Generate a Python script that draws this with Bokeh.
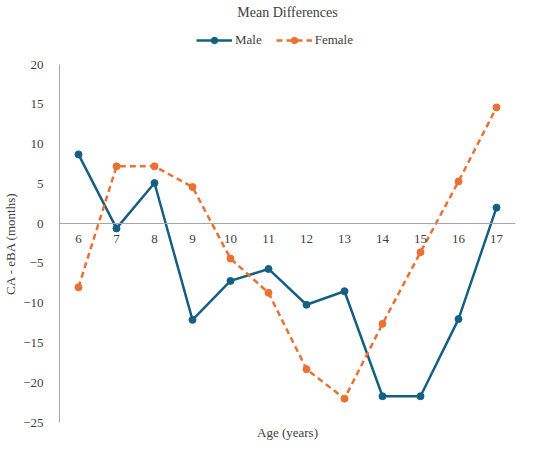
from bokeh.plotting import figure
from bokeh.layouts import column
from bokeh.models import Legend, LegendItem, Range1d, FixedTicker, Title, ColumnDataSource
from bokeh.embed import file_html
from bokeh.resources import INLINE

ages = ["6", "7", "8", "9", "10", "11", "12", "13", "14", "15", "16", "17"]
male = [8.7, -0.6, 5.1, -12.1, -7.2, -5.7, -10.2, -8.5, -21.7, -21.7, -12.0, 2.0]
female = [-8.0, 7.2, 7.2, 4.6, -4.4, -8.7, -18.3, -22.0, -12.6, -3.6, 5.3, 14.6]
y_ticks = [20, 15, 10, 5, 0, -5, -10, -15, -20, -25]
series_names = ["Male", "Female"]

MALE_C = "#156082"
FEMALE_C = "#E97132"
FONT = "Liberation Serif"
TXT = "#404040"
AX = "#a6a6a6"

src = ColumnDataSource(dict(age=ages, male=male, female=female))


def add_series(fig):
    ml = fig.line("age", "male", source=src, line_color=MALE_C, line_width=2.5)
    mc = fig.scatter("age", "male", source=src, size=7, fill_color=MALE_C, line_color=MALE_C)
    fl = fig.line("age", "female", source=src, line_color=FEMALE_C, line_width=2.5, line_dash="6 4")
    fc = fig.scatter("age", "female", source=src, size=7, fill_color=FEMALE_C, line_color=FEMALE_C)
    return ml, mc, fl, fc


# ---- header: title + legend (its data lies outside its view; only the legend shows) ----
h = figure(width=550, height=52, x_range=ages, y_range=Range1d(100, 101),
           x_axis_type=None, y_axis_type=None, output_backend="svg", toolbar_location=None,
           min_border_left=0, min_border_right=0, min_border_top=0, min_border_bottom=0)
h.outline_line_color = None
h.grid.visible = False
h.title.text = "Mean Differences"
h.title.align = "center"
h.title.text_font = FONT
h.title.text_font_size = "14px"
h.title.text_font_style = "normal"
h.title.text_color = TXT
h.title.standoff = 4

hml, hmc, hfl, hfc = add_series(h)
legend = Legend(items=[LegendItem(label=series_names[0], renderers=[hml, hmc]),
                       LegendItem(label=series_names[1], renderers=[hfl, hfc])],
                orientation="horizontal", location=(137, 4),
                label_text_font=FONT, label_text_font_size="13px", label_text_color=TXT,
                border_line_color=None, background_fill_alpha=0,
                glyph_width=36, glyph_height=16, spacing=14, label_standoff=3,
                margin=0, padding=2)
h.add_layout(legend, "center")

# ---- main plot ----
p = figure(width=550, height=398, x_range=ages, y_range=Range1d(-25, 20),
           output_backend="svg", toolbar_location=None,
           min_border_left=58, min_border_right=35, min_border_top=12, min_border_bottom=28)
p.outline_line_color = None
p.grid.visible = False

# x axis drawn at y = 0
p.xaxis.fixed_location = 0
p.xaxis.axis_line_color = AX
p.xaxis.major_tick_line_color = None
p.xaxis.minor_tick_line_color = None
p.xaxis.major_tick_out = 0
p.xaxis.major_tick_in = 0
p.xaxis.major_label_text_font = FONT
p.xaxis.major_label_text_font_size = "13px"
p.xaxis.major_label_text_color = TXT
p.xaxis.major_label_standoff = 11

p.yaxis.ticker = FixedTicker(ticks=y_ticks)
p.yaxis.axis_line_color = AX
p.yaxis.major_tick_line_color = None
p.yaxis.minor_tick_line_color = None
p.yaxis.major_tick_out = 0
p.yaxis.major_tick_in = 0
p.yaxis.major_label_text_font = FONT
p.yaxis.major_label_text_font_size = "13px"
p.yaxis.major_label_text_color = TXT
p.yaxis.major_label_standoff = 16
p.yaxis.axis_label = "CA - eBA (months)"
p.yaxis.axis_label_text_font = FONT
p.yaxis.axis_label_text_font_size = "13px"
p.yaxis.axis_label_text_font_style = "normal"
p.yaxis.axis_label_text_color = TXT
p.yaxis.axis_label_standoff = 2

p.add_layout(Title(text="Age (years)", align="center", text_font=FONT, text_font_size="13px",
                   text_font_style="normal", text_color=TXT, standoff=0), "below")

add_series(p)

open("out.html", "w").write(file_html(column(h, p), INLINE))
